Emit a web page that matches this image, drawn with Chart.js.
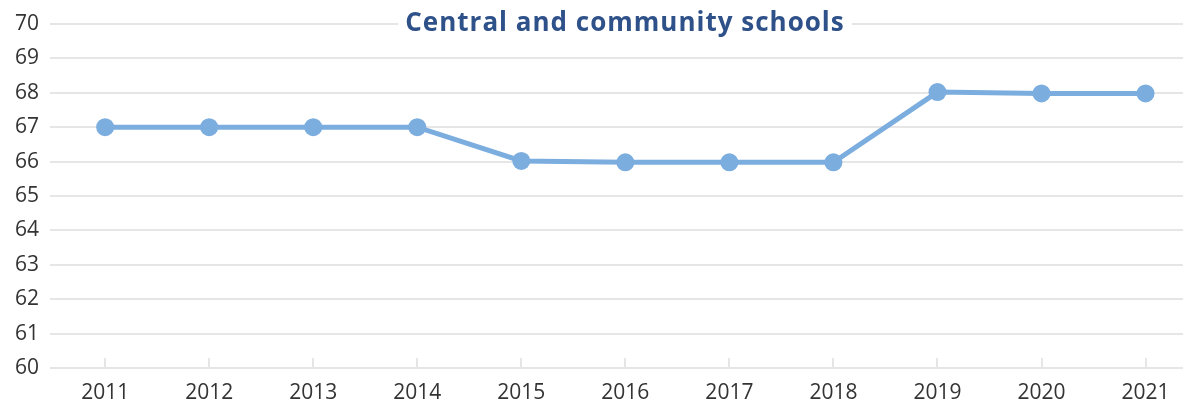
<!DOCTYPE html>
<html>
<head>
<meta charset="utf-8">
<script src="https://cdn.jsdelivr.net/npm/chart.js@4.4.0/dist/chart.umd.min.js"></script>
<style>
  html, body { margin: 0; padding: 0; background: #fff; }
  #wrap { width: 1183px; height: 407px; position: relative; }
</style>
</head>
<body>
<div id="wrap"><canvas id="schoolsChart"></canvas></div>
<script>
// данные графика
const chartTitle = 'Central and community schools';
const years = [2011, 2012, 2013, 2014, 2015, 2016, 2017, 2018, 2019, 2020, 2021];
const values = [67, 67, 67, 67, 66.02, 65.98, 65.98, 65.98, 68.02, 67.98, 67.98];
const yTicks = [60, 61, 62, 63, 64, 65, 66, 67, 68, 69, 70];

const gridColor = '#e6e6e6';
const lineColor = '#7badde';

// короткие засечки над осью X
const tickMarks = {
    id: 'tickMarks',
    beforeDatasetsDraw(chart) {
        const { ctx, scales: { x }, chartArea } = chart;
        ctx.save();
        ctx.strokeStyle = gridColor;
        ctx.lineWidth = 2;
        years.forEach(yr => {
            const px = Math.round(x.getPixelForValue(yr));
            ctx.beginPath();
            ctx.moveTo(px, chartArea.bottom - 10);
            ctx.lineTo(px, chartArea.bottom);
            ctx.stroke();
        });
        ctx.restore();
    }
};

// заголовок поверх линии сетки с белой подложкой
const overlayTitle = {
    id: 'overlayTitle',
    beforeDatasetsDraw(chart) {
        const { ctx, chartArea } = chart;
        const cx = 625;
        const cy = chartArea.top;
        ctx.save();
        ctx.font = 'bold 26px "Open Sans"';
        ctx.letterSpacing = '1px';
        const w = ctx.measureText(chartTitle).width;
        ctx.fillStyle = '#fff';
        ctx.fillRect(cx - w / 2 - 7, cy - 16, w + 14, 32);
        ctx.fillStyle = '#2f5189';
        ctx.textAlign = 'center';
        ctx.textBaseline = 'middle';
        ctx.fillText(chartTitle, cx, cy);
        ctx.restore();
    }
};

const ctx = document.getElementById('schoolsChart').getContext('2d');
new Chart(ctx, {
    type: 'line',
    data: {
        datasets: [{
            data: years.map((yr, i) => ({ x: yr, y: values[i] })),
            borderColor: lineColor,
            backgroundColor: lineColor,
            borderWidth: 5,
            pointRadius: 9,
            pointBackgroundColor: lineColor,
            pointBorderWidth: 0,
            tension: 0,
            clip: false
        }]
    },
    options: {
        responsive: true,
        maintainAspectRatio: false,
        animation: false,
        layout: { autoPadding: false, padding: { top: 24, left: 0, right: 0, bottom: 0 } },
        plugins: { legend: { display: false }, tooltip: { enabled: false }, title: { display: false } },
        scales: {
            x: {
                type: 'linear',
                min: 2010.47,
                max: 2021.36,
                afterBuildTicks: scale => { scale.ticks = years.map(v => ({ value: v })); },
                afterFit: scale => { scale.height = 39; scale.paddingRight = 0; },
                grid: { display: false, drawTicks: false },
                border: { display: false },
                ticks: {
                    padding: 12,
                    color: '#333',
                    font: { family: '"Open Sans"', size: 21 },
                    callback: v => String(v),
                    maxRotation: 0,
                    autoSkip: false
                }
            },
            y: {
                min: 60,
                max: 70,
                afterBuildTicks: scale => { scale.ticks = yTicks.map(v => ({ value: v })); },
                afterFit: scale => { scale.width = 50; },
                grid: { color: gridColor, lineWidth: 2, drawTicks: false },
                border: { display: false },
                ticks: {
                    padding: 11,
                    color: '#333',
                    font: { family: '"Open Sans"', size: 21 },
                    callback: v => String(v)
                }
            }
        }
    },
    plugins: [tickMarks, overlayTitle]
});
</script>
</body>
</html>
